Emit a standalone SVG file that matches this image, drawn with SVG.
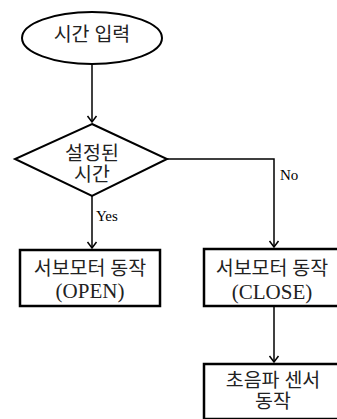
<svg xmlns="http://www.w3.org/2000/svg" width="337" height="419" viewBox="0 0 337 419">
<defs>
<marker id="arr" markerWidth="12" markerHeight="12" refX="10" refY="6" orient="auto" markerUnits="userSpaceOnUse">
<path d="M4,1.5 L10,6 L4,10.5" fill="none" stroke="#000" stroke-width="1.5"/>
</marker>
</defs>
<style>
.shape{fill:#fff;stroke:#000;stroke-width:2}
.box{fill:#fff;stroke:#000;stroke-width:2.5}
.conn{fill:none;stroke:#000;stroke-width:1.5}
.t{font-family:"Liberation Serif","Noto Sans CJK KR",serif;font-size:19.5px;fill:#222;text-anchor:middle}
.lat{font-family:"Liberation Serif",serif;font-size:21px;fill:#222;text-anchor:middle}
.lbl{font-family:"Liberation Serif","Noto Sans CJK KR",serif;font-size:15px;fill:#000}
</style>
<rect width="337" height="419" fill="#fff"/>
<g id="connectors">
<path class="conn" d="M92,64 V122" marker-end="url(#arr)"/>
<path class="conn" d="M167,159 H274 V247" marker-end="url(#arr)"/>
<path class="conn" d="M92,196 V248" marker-end="url(#arr)"/>
<path class="conn" d="M274,306 V362" marker-end="url(#arr)"/>
<text class="lbl" x="96" y="221">Yes</text>
<text class="lbl" x="280" y="180">No</text>
</g>
<g id="start">
<ellipse class="shape" cx="92" cy="38" rx="70" ry="26"/>
<text class="t" x="92" y="41">시간 입력</text>
</g>
<g id="decision">
<polygon class="shape" points="92,124 167,159 92,196 15,159"/>
<text class="t" x="92" y="160">설정된</text>
<text class="t" x="92" y="181">시간</text>
</g>
<g id="open">
<rect class="box" x="20" y="250" width="140" height="56"/>
<text class="t" x="90" y="275">서보모터 동작</text>
<text class="lat" x="90" y="298">(OPEN)</text>
</g>
<g id="close">
<rect class="box" x="204" y="249" width="140" height="57"/>
<text class="t" x="272" y="275">서보모터 동작</text>
<text class="lat" x="272" y="299">(CLOSE)</text>
</g>
<g id="sensor">
<rect class="box" x="204" y="364" width="140" height="55"/>
<text class="t" x="273" y="387">초음파 센서</text>
<text class="t" x="273" y="408">동작</text>
</g>
</svg>
